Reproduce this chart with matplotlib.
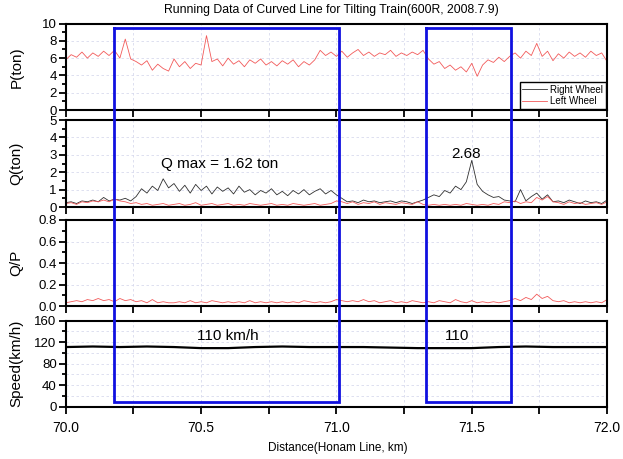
import numpy as np
import matplotlib
matplotlib.use("Agg")
import matplotlib.pyplot as plt
from matplotlib.ticker import MultipleLocator, FuncFormatter
from matplotlib.lines import Line2D

plt.rcParams['font.family'] = ['Liberation Sans', 'DejaVu Sans']

# distance samples (km) for the dense signals, every 20 m
dist = np.linspace(70.0, 72.0, 101)

# P (ton), left wheel
p_left = [5.8, 6.4, 6.1, 6.7, 6.0, 6.6, 6.2, 6.8, 6.3, 6.9,
          6.0, 8.2, 5.9, 5.6, 5.2, 5.7, 4.6, 5.3, 4.8, 4.5,
          5.9, 5.0, 5.6, 4.8, 5.4, 5.2, 8.6, 5.6, 5.9, 5.1,
          6.0, 5.3, 5.7, 5.0, 5.8, 5.4, 5.9, 5.2, 5.6, 5.1,
          5.7, 5.3, 5.8, 5.0, 5.6, 5.2, 5.8, 6.9, 6.3, 6.7,
          6.2,
          6.8, 6.1, 6.6, 7.0, 6.3, 6.7, 6.2, 6.6, 6.4, 6.9,
          6.2, 6.6, 6.3, 6.7, 6.4, 6.9, 5.9, 5.3, 5.6, 4.8,
          5.2, 4.6, 5.0, 4.4, 5.4, 3.9, 5.2, 5.8, 5.5, 6.1,
          5.6, 6.2, 6.6, 6.0, 6.8, 6.3, 7.7, 6.2, 6.8, 5.7,
          6.5, 6.0, 6.7, 6.2, 6.6, 6.1, 6.8, 6.3, 6.6, 5.6]

# Q (ton)
q_right = [0.25, 0.3, 0.2, 0.35, 0.3, 0.4, 0.3, 0.55, 0.35, 0.45,
           0.4, 0.5, 0.35, 0.6, 1.05, 0.8, 1.2, 0.95, 1.62, 1.1,
           1.35, 0.9, 1.25, 0.8, 1.3, 0.95, 1.2, 0.75, 1.15, 0.9,
           1.1, 0.75, 1.2, 0.85, 1.0, 0.7, 0.95, 0.8, 1.05, 0.7,
           0.9, 0.65, 0.95, 0.75, 1.0, 0.7, 0.9, 1.05, 0.75, 0.95,
           0.7,
           0.5, 0.3, 0.35, 0.25, 0.4, 0.3, 0.35, 0.25, 0.3, 0.35,
           0.25, 0.35, 0.3, 0.2, 0.3, 0.4, 0.55, 0.7, 0.6, 0.95,
           0.8, 1.2, 1.0, 1.45, 2.68, 1.3, 0.9, 0.7, 0.55, 0.6,
           0.4, 0.35, 0.3, 1.0, 0.35, 0.6, 0.8, 0.45, 0.7, 0.3,
           0.35, 0.25, 0.4, 0.3, 0.2, 0.35, 0.25, 0.3, 0.2, 0.4]

q_left = [0.2, 0.25, 0.15, 0.3, 0.25, 0.35, 0.3, 0.4, 0.3, 0.45,
          0.35, 0.3, 0.2, 0.25, 0.15, 0.2, 0.1, 0.15, 0.2, 0.1,
          0.15, 0.2, 0.1, 0.15, 0.25, 0.1, 0.15, 0.2, 0.1, 0.15,
          0.2, 0.1, 0.15, 0.1, 0.2, 0.15, 0.1, 0.15, 0.2, 0.1,
          0.15, 0.1, 0.2, 0.15, 0.1, 0.15, 0.2, 0.1, 0.15, 0.2,
          0.35,
          0.3, 0.2, 0.3, 0.15, 0.25, 0.2, 0.3, 0.15, 0.25, 0.2,
          0.15, 0.25, 0.2, 0.15, 0.3, 0.15, 0.1, 0.15, 0.1, 0.15,
          0.1, 0.15, 0.1, 0.2, 0.15, 0.1, 0.15, 0.1, 0.2, 0.15,
          0.3, 0.25, 0.35, 0.2, 0.3, 0.25, 0.55, 0.4, 0.6, 0.3,
          0.25, 0.15, 0.3, 0.2, 0.25, 0.15, 0.2, 0.25, 0.15, 0.3]

# Q/P
qp_left = [0.03, 0.04, 0.05, 0.04, 0.06, 0.05, 0.07, 0.05, 0.06, 0.04,
           0.07, 0.05, 0.06, 0.04, 0.05, 0.03, 0.06, 0.03, 0.04, 0.03,
           0.03, 0.04, 0.03, 0.05, 0.03, 0.04, 0.03, 0.05, 0.04, 0.03,
           0.04, 0.03, 0.04, 0.03, 0.05, 0.03, 0.04, 0.03, 0.04, 0.03,
           0.04, 0.03, 0.04, 0.03, 0.05, 0.04, 0.03, 0.04, 0.03, 0.04,
           0.06,
           0.05, 0.04, 0.05, 0.04, 0.06, 0.04, 0.05, 0.03, 0.04, 0.05,
           0.03, 0.04, 0.03, 0.05, 0.04, 0.03, 0.04, 0.03, 0.05, 0.04,
           0.03, 0.06, 0.04, 0.03, 0.05, 0.03, 0.04, 0.03, 0.04, 0.03,
           0.04, 0.05, 0.07, 0.05, 0.08, 0.06, 0.11, 0.07, 0.09, 0.05,
           0.04, 0.05, 0.03, 0.04, 0.03, 0.04, 0.03, 0.04, 0.03, 0.06]

# speed (km/h), every 100 m
speed_dist = [70.0, 70.1, 70.2, 70.3, 70.4, 70.5, 70.6, 70.7, 70.8, 70.9, 71.0,
              71.1, 71.2, 71.3, 71.4, 71.5, 71.6, 71.7, 71.8, 71.9, 72.0]
speed = [111, 112, 111, 112, 111, 109, 109, 111, 112, 111, 111,
         111, 110, 109, 109, 109, 111, 112, 111, 111, 111]

# highlighted sections (km)
box_start = [70.18, 71.33]
box_end = [71.01, 71.645]

RED = '#f25a5a'
BLK = '#303030'
GRID = '#d8daee'

fig = plt.figure(figsize=(6.23, 4.59), dpi=100)
left, width = 0.1055, 0.869
ax_p = fig.add_axes([left, 0.7603, width, 0.1885])
ax_q = fig.add_axes([left, 0.5490, width, 0.1895])
ax_qp = fig.add_axes([left, 0.3333, width, 0.1874])
ax_v = fig.add_axes([left, 0.1139, width, 0.1874])
axes = [ax_p, ax_q, ax_qp, ax_v]

ax_p.plot(dist, p_left, color=RED, lw=0.6)
hr, = ax_q.plot(dist, q_right, color=BLK, lw=0.6, label='Right Wheel')
hl, = ax_q.plot(dist, q_left, color=RED, lw=0.6, label='Left Wheel')
ax_qp.plot(dist, qp_left, color=RED, lw=0.6)
ax_v.plot(speed_dist, speed, color='black', lw=1.6)

ax_p.set_ylim(0, 10)
ax_p.yaxis.set_major_locator(MultipleLocator(2))
ax_p.yaxis.set_minor_locator(MultipleLocator(1))
ax_q.set_ylim(0, 5)
ax_q.yaxis.set_major_locator(MultipleLocator(1))
ax_q.yaxis.set_minor_locator(MultipleLocator(0.5))
ax_qp.set_ylim(0, 0.8)
ax_qp.yaxis.set_major_locator(MultipleLocator(0.2))
ax_qp.yaxis.set_minor_locator(MultipleLocator(0.1))
ax_qp.yaxis.set_major_formatter(FuncFormatter(lambda v, p: f"{v:.1f}"))
ax_v.set_ylim(0, 160)
ax_v.yaxis.set_major_locator(MultipleLocator(40))
ax_v.yaxis.set_minor_locator(MultipleLocator(20))

ylabels = ['P(ton)', 'Q(ton)', 'Q/P', 'Speed(km/h)']
for ax, lab in zip(axes, ylabels):
    ax.set_xlim(70.0, 72.0)
    ax.xaxis.set_major_locator(MultipleLocator(0.25))
    ax.xaxis.set_major_formatter(FuncFormatter(
        lambda v, p: f"{v:.1f}" if abs(v * 2 - round(v * 2)) < 1e-6 else ""))
    ax.tick_params(which='both', direction='out', width=1.3, labelsize=9.5,
                   pad=1.5, colors='black')
    ax.tick_params(which='major', length=5)
    ax.tick_params(which='minor', length=3)
    ax.tick_params(axis='x', which='minor', length=0)
    for s in ax.spines.values():
        s.set_linewidth(1.5)
    ax.grid(True, which='major', color=GRID, lw=0.6, ls=(0, (3, 3)))
    ax.set_ylabel(lab, fontsize=11, labelpad=4)
    if ax is not ax_v:
        ax.tick_params(axis='x', labelbottom=False)
ax_v.grid(True, which='minor', axis='y', color=GRID, lw=0.6, ls=(0, (3, 3)))
ax_v.tick_params(axis='x', labelsize=10, pad=5)
for ax in axes:
    ax.yaxis.set_label_coords(-0.078, 0.5)

ax_p.legend(handles=[hr, hl], loc='lower right', fontsize=7, frameon=True,
            fancybox=False, edgecolor='black', framealpha=1, borderaxespad=0.15,
            handlelength=2.6, handletextpad=0.3, borderpad=0.25, labelspacing=0.15)

ax_q.text(70.57, 2.5, 'Q max = 1.62 ton', fontsize=11, ha='center', va='center')
ax_q.text(71.48, 3.05, '2.68', fontsize=11, ha='center', va='center')
ax_v.text(70.6, 131, '110 km/h', fontsize=11, ha='center', va='center')
ax_v.text(71.445, 131, '110', fontsize=11, ha='center', va='center')

fig.text(0.532, 0.978, 'Running Data of Curved Line for Tilting Train(600R, 2008.7.9)',
         fontsize=8.8, ha='center', va='center')
fig.text(0.543, 0.024, 'Distance(Honam Line, km)', fontsize=8.5, ha='center', va='center')

# blue boxes spanning all panels
to_fig = fig.transFigure.inverted()
for x0, x1 in zip(box_start, box_end):
    tx0, ty_top = to_fig.transform(ax_p.transData.transform((x0, 9.5)))
    tx1, _ = to_fig.transform(ax_p.transData.transform((x1, 9.5)))
    _, ty_bot = to_fig.transform(ax_v.transData.transform((x0, 8)))
    fig.add_artist(Line2D([tx0, tx1, tx1, tx0, tx0],
                          [ty_top, ty_top, ty_bot, ty_bot, ty_top],
                          transform=fig.transFigure, color='#1010e0', lw=2.0,
                          solid_joinstyle='miter', zorder=10))

fig.savefig('out.png', dpi=100)
